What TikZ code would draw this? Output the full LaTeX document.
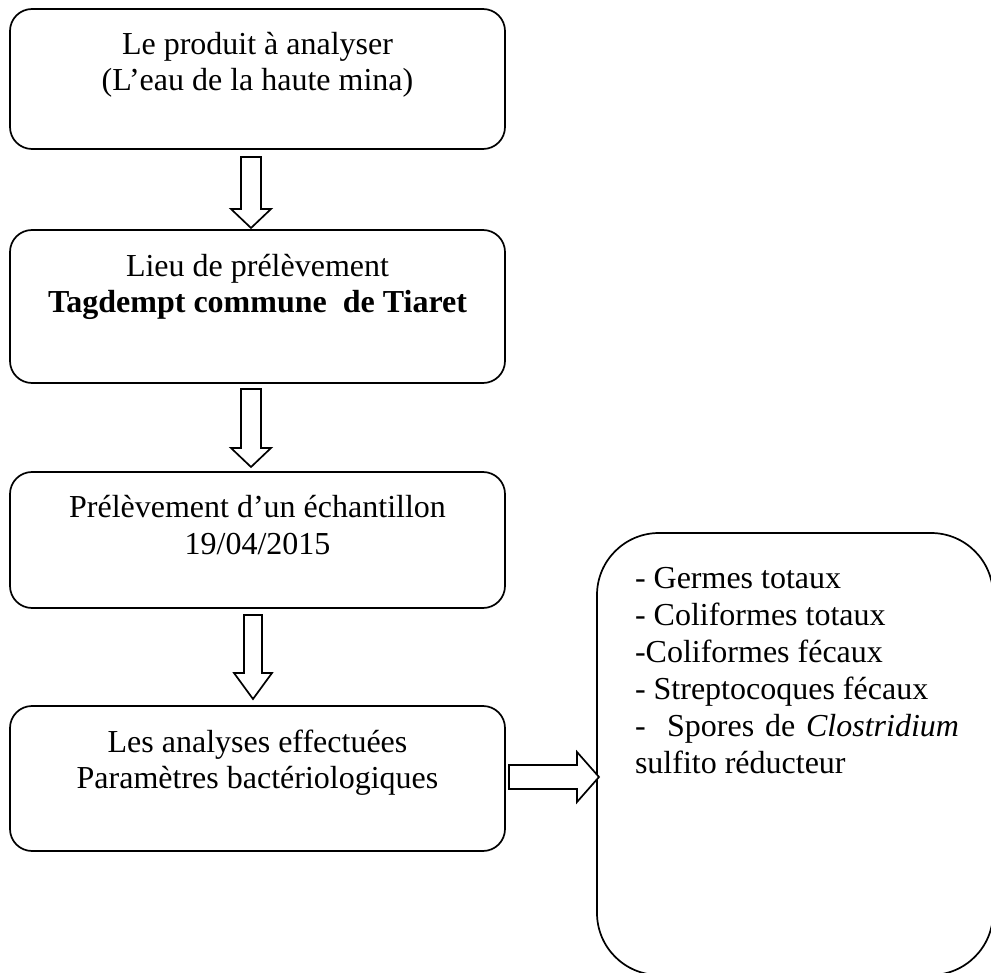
\documentclass[tikz,border=0pt]{standalone}
\usepackage{fontspec}
\setmainfont{Liberation Serif}
\usetikzlibrary{calc}
\tikzset{
  box/.style={draw, line width=1.7pt, rounded corners=22pt, rectangle, inner sep=0pt, outer sep=0pt},
  bigbox/.style={draw, line width=1.7pt, rounded corners=62pt, rectangle, inner sep=0pt, outer sep=0pt},
  txt/.style={inner sep=0pt, outer sep=0pt, font=\fontsize{32}{36}\selectfont},
  blk/.style={draw, line width=1.7pt, fill=white, line join=miter}
}
% down block arrow: #1 start coordinate, #2 tip coordinate, #3 head length, #4 shaft half width, #5 head half width
\newcommand\dnblockarrow[5]{%
  \draw[blk] ($(#1)+(-#4,0)$) -- ($(#1)+(#4,0)$) -- ($(#2)+(#4,-#3)$) -- ($(#2)+(#5,-#3)$) -- (#2)
    -- ($(#2)+(-#5,-#3)$) -- ($(#2)+(-#4,-#3)$) -- cycle;}
\newcommand\rtblockarrow[5]{%
  \draw[blk] ($(#1)+(0,-#4)$) -- ($(#1)+(0,#4)$) -- ($(#2)+(-#3,#4)$) -- ($(#2)+(-#3,#5)$) -- (#2)
    -- ($(#2)+(-#3,-#5)$) -- ($(#2)+(-#3,-#4)$) -- cycle;}
\begin{document}
\begin{tikzpicture}[x=1pt,y=-1pt]
\clip (0,0) rectangle (991,973);
% boxes
\node[box, minimum width=495pt, minimum height=140pt] (b1) at (257.5,79) {};
\node[box, minimum width=495pt, minimum height=153pt] (b2) at (257.5,306.5) {};
\node[box, minimum width=495pt, minimum height=136pt] (b3) at (257.5,540) {};
\node[box, minimum width=495pt, minimum height=145pt] (b4) at (257.5,778.5) {};
\node[bigbox, minimum width=396pt, minimum height=442pt] (rb) at (795,754) {};
% texts
\node[txt, anchor=base] (t1a) at (257.5,55) {Le produit à analyser};
\node[txt, anchor=base] (t1b) at (257.5,91) {(L’eau de la haute mina)};
\node[txt, anchor=base] (t2a) at (257.5,277) {Lieu de prélèvement};
\node[txt, anchor=base, font=\fontsize{32}{36}\selectfont\bfseries] (t2b) at (257.5,313) {Tagdempt commune\ \ de Tiaret};
\node[txt, anchor=base] (t3a) at (257.5,517) {Prélèvement d’un échantillon};
\node[txt, anchor=base] (t3b) at (257.5,554) {19/04/2015};
\node[txt, anchor=base] (t4a) at (257.5,752) {Les analyses effectuées};
\node[txt, anchor=base] (t4b) at (257.5,788) {Paramètres bactériologiques};
\node[txt, anchor=base west] (r1) at (635,588) {- Germes totaux};
\node[txt, anchor=base west] (r2) at (635,625) {- Coliformes totaux};
\node[txt, anchor=base west] (r3) at (635,662) {-Coliformes fécaux};
\node[txt, anchor=base west] (r4) at (635,699) {- Streptocoques fécaux};
\node[txt, anchor=base west] (r5) at (635,736) {\makebox[324pt][s]{- \ Spores de \textit{Clostridium}}};
\node[txt, anchor=base west] (r6) at (635,773) {sulfito réducteur};
% arrows
\coordinate (a1s) at ($(b1.south)+(-6.5,8)$);
\coordinate (a1e) at ($(b2.north)+(-6.5,-2)$);
\dnblockarrow{a1s}{a1e}{19}{10}{20}
\coordinate (a2s) at ($(b2.south)+(-6.5,6)$);
\coordinate (a2e) at ($(b3.north)+(-6.5,-5)$);
\dnblockarrow{a2s}{a2e}{19}{10}{20}
\coordinate (a3s) at ($(b3.south)+(-4.5,7)$);
\coordinate (a3e) at ($(b4.north)+(-4.5,-7)$);
\dnblockarrow{a3s}{a3e}{26}{9}{19}
\coordinate (a4s) at ($(b4.east)+(4,-1.5)$);
\coordinate (a4e) at ($(rb.west |- a4s)+(2,0)$);
\rtblockarrow{a4s}{a4e}{22}{12}{25}
\end{tikzpicture}
\end{document}
